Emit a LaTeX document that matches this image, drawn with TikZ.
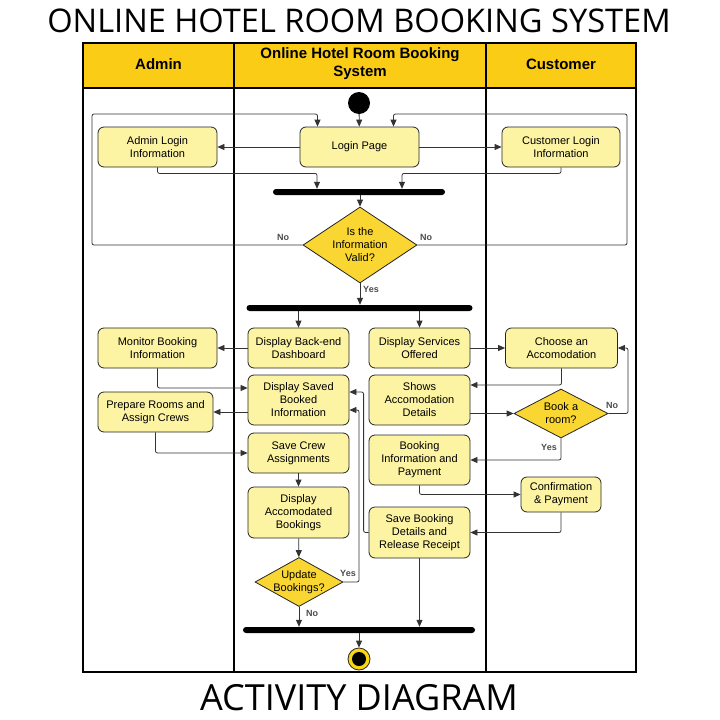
\documentclass[tikz,border=0pt]{standalone}
\usepackage{fontspec}
\setmainfont{Liberation Sans}
\newfontfamily\titlefont{Open Sans}
\usetikzlibrary{shapes.geometric,arrows.meta}
\definecolor{headfill}{RGB}{250,204,21}
\definecolor{actfill}{RGB}{252,243,163}
\definecolor{decfill}{RGB}{250,214,50}
\definecolor{ringc}{RGB}{250,214,20}
\begin{document}
\begin{tikzpicture}[x=1pt,y=-1pt,
  act/.style={draw=black!85, fill=actfill, rounded corners=6pt, line width=0.8pt, align=center,
    font=\fontsize{11}{13}\selectfont, inner sep=0pt},
  dec/.style={diamond, draw=black!85, fill=decfill, line width=0.8pt, inner sep=0pt},
  dectext/.style={align=center, font=\fontsize{11}{13}\selectfont, inner sep=0pt},
  syncbar/.style={rectangle, fill=black, minimum height=6pt, rounded corners=3pt, inner sep=0pt},
  arr/.style={draw=black!80, line width=0.8pt, -{Triangle[length=7pt,width=6pt]}, rounded corners=2pt},
  lbl/.style={font=\bfseries\fontsize{9}{10}\selectfont, text=black!70, inner sep=0pt},
  lanehead/.style={font=\bfseries\fontsize{15}{18}\selectfont, align=center, inner sep=0pt},
  bigtitle/.style={font=\titlefont\fontsize{32.6}{36}\selectfont, inner sep=0pt}
]
\useasboundingbox (0,0) rectangle (720,720);
\fill[white] (0,0) rectangle (720,720);

% titles
\node[bigtitle] (title) at (359,21) {ONLINE HOTEL ROOM BOOKING SYSTEM};
\node[bigtitle, font=\titlefont\fontsize{36}{38}\selectfont] (subtitle) at (359,698) {ACTIVITY DIAGRAM};

% swimlanes
\fill[headfill] (83,43) rectangle (636,88);
\draw[line width=1.5pt] (83,43) rectangle (636,672);
\draw[line width=1.5pt] (83,88) -- (636,88);
\draw[line width=1.5pt] (234,43) -- (234,672);
\draw[line width=1.5pt] (486,43) -- (486,672);
\node[lanehead] (hadmin) at (158.5,64) {Admin};
\node[lanehead] (hsys) at (360,64) {Online Hotel Room Booking\\System};
\node[lanehead] (hcust) at (561,64) {Customer};

% nodes
\node[circle, fill=black, minimum size=22pt, inner sep=0pt] (start) at (359,103) {};
\node[act, minimum width=119pt, minimum height=40pt] (login) at (359.5,147) {Login Page};
\node[act, minimum width=119pt, minimum height=40pt] (adminlogin) at (157.5,147) {Admin Login\\Information};
\node[act, minimum width=118pt, minimum height=40pt] (custlogin) at (561,147) {Customer Login\\Information};
\node[syncbar, minimum width=172pt] (bar1) at (359,192) {};
\node[dec, minimum width=114pt, minimum height=76pt] (valid) at (360,245) {};
\node[dectext] (validt) at (valid) {Is the\\Information\\Valid?};
\node[syncbar, minimum width=226pt] (bar2) at (359.5,308) {};

\node[act, minimum width=101pt, minimum height=40pt] (dash) at (298.5,348) {Display Back-end\\Dashboard};
\node[act, minimum width=101pt, minimum height=50pt] (saved) at (298.5,400) {Display Saved\\Booked\\Information};
\node[act, minimum width=101pt, minimum height=40pt] (crew) at (298.5,453) {Save Crew\\Assignments};
\node[act, minimum width=101pt, minimum height=51pt] (accom) at (298.5,512.5) {Display\\Accomodated\\Bookings};
\node[dec, minimum width=88pt, minimum height=49pt] (upd) at (299,582) {};
\node[dectext] (updt) at (upd) {Update\\Bookings?};

\node[act, minimum width=119pt, minimum height=40pt] (monitor) at (157.5,348) {Monitor Booking\\Information};
\node[act, minimum width=115pt, minimum height=40pt] (prep) at (155.5,412) {Prepare Rooms and\\Assign Crews};

\node[act, minimum width=101pt, minimum height=40pt] (services) at (419.5,348) {Display Services\\Offered};
\node[act, minimum width=101pt, minimum height=50pt] (shows) at (419.5,400) {Shows\\Accomodation\\Details};
\node[act, minimum width=101pt, minimum height=50pt] (bookinfo) at (419.5,460) {Booking\\Information and\\Payment};
\node[act, minimum width=101pt, minimum height=51pt] (savebook) at (419.5,532.5) {Save Booking\\Details and\\Release Receipt};

\node[act, minimum width=112pt, minimum height=40pt] (choose) at (561.5,348) {Choose an\\Accomodation};
\node[dec, minimum width=94pt, minimum height=49pt] (bookq) at (561,413.5) {};
\node[dectext] (bookqt) at (bookq) {Book a\\room?};
\node[act, minimum width=80pt, minimum height=35pt] (confirm) at (561,494.5) {Confirmation\\\& Payment};

\node[syncbar, minimum width=232pt] (bar3) at (359,630) {};
\node[circle, draw=black!85, fill=ringc, line width=0.8pt, minimum size=22pt, inner sep=0pt] (end) at (359,659) {};
\node[circle, fill=black, minimum size=14pt, inner sep=0pt] (endin) at (end) {};

% loop coordinates
\coordinate (loopL) at (92,114);
\coordinate (loopR) at (627,114);
\coordinate (yesR) at (359,410);
\coordinate (noR) at (628,348);

% connectors
\draw[arr] (start) -- (login);
\draw[arr] (login.west) -- (adminlogin.east);
\draw[arr] (login.east) -- (custlogin.west);
\draw[arr] (adminlogin.south) -- ++(0,6) -| ([xshift=-42pt]bar1.north);
\draw[arr] (custlogin.south) -- ++(0,6) -| ([xshift=43pt]bar1.north);
\draw[arr] (bar1.south -| valid.north) -- (valid.north);
\draw[arr] (valid.west) -| (loopL) -| ([xshift=-42pt]login.north);
\draw[arr] (valid.east) -| (loopR) -| ([xshift=34pt]login.north);
\draw[arr] (valid.south) -- (valid.south |- bar2.north);
\draw[arr] (bar2.south -| dash.north) -- (dash.north);
\draw[arr] (bar2.south -| services.north) -- (services.north);

\draw[arr] (dash.west) -- (monitor.east);
\draw[arr] (monitor.south) |- ([yshift=12pt]saved.west);
\draw[arr] ([yshift=-12pt]saved.west) -- (prep.east);
\draw[arr] (prep.south) |- (crew.west);
\draw[arr] (crew) -- (accom);
\draw[arr] (accom) -- (upd);
\draw[arr] (upd.south) -- (upd.south |- bar3.north);
\draw[arr] (upd.east) -| (yesR) -- ([yshift=-10pt]saved.east);
\draw[arr] (savebook.west) -- ++(-5,0) |- ([yshift=8pt]saved.east);
\draw[arr] (savebook.south) -- (savebook.south |- bar3.north);
\draw[arr] (bar3.south -| end.north) -- (end.north);

\draw[arr] (services.east) -- (choose.west);
\draw[arr] (choose.south) |- ([yshift=15pt]shows.east);
\draw[arr] (bookq.west -| shows.east) -- (bookq.west);
\draw[arr] (bookq.east) -| (noR) -- (choose.east);
\draw[arr] (bookq.south) |- (bookinfo.east);
\draw[arr] (bookinfo.south) |- (confirm.west);
\draw[arr] (confirm.south) |- (savebook.east);

% guard labels
\node[lbl] (no1) at (283,237) {No};
\node[lbl] (no2) at (426,237) {No};
\node[lbl] (yes1) at (371,289) {Yes};
\node[lbl] (no3) at (312,613) {No};
\node[lbl] (yes2) at (348,573) {Yes};
\node[lbl] (no4) at (612,405) {No};
\node[lbl] (yes3) at (549,447) {Yes};
\end{tikzpicture}
\end{document}
